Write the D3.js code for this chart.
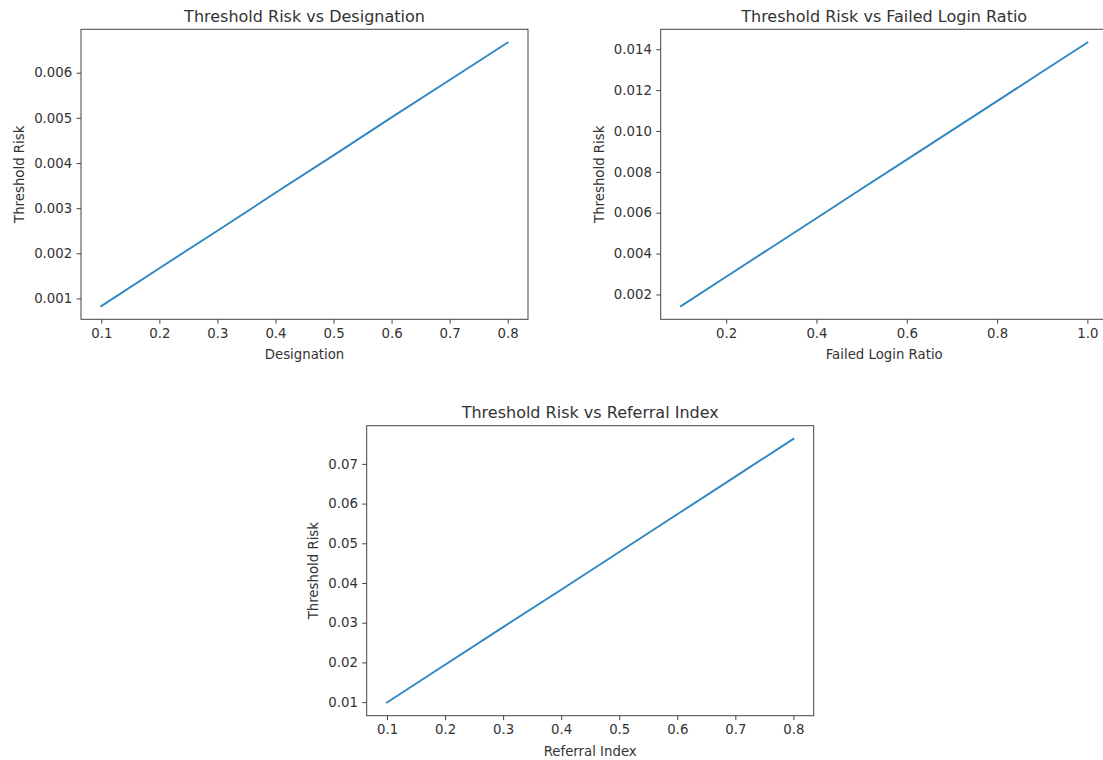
<!DOCTYPE html>
<html>
<head>
<meta charset="utf-8">
<script src="https://cdn.jsdelivr.net/npm/d3@7"></script>
<style>
  html, body { margin: 0; padding: 0; background: #fff; }
  svg { display: block; }
  text { font-family: "DejaVu Sans", sans-serif; fill: #333; }
</style>
</head>
<body>
<svg id="chart" width="1103" height="760"></svg>
<script>
// ---------- Data ----------
const designationX = [0.1, 0.2, 0.3, 0.4, 0.5, 0.6, 0.7, 0.8];
const designationRisk = [0.00083, 0.00167, 0.00250, 0.00334, 0.00417, 0.00501, 0.00584, 0.00667];

const failedLoginX = [0.1, 0.2, 0.3, 0.4, 0.5, 0.6, 0.7, 0.8, 0.9, 1.0];
const failedLoginRisk = [0.00143, 0.00287, 0.00430, 0.00573, 0.00717, 0.00860, 0.01003, 0.01146, 0.01290, 0.01433];

const referralX = [0.1, 0.2, 0.3, 0.4, 0.5, 0.6, 0.7, 0.8];
const referralRisk = [0.0099, 0.0194, 0.0289, 0.0383, 0.0478, 0.0573, 0.0668, 0.0763];

// ---------- Tick labels ----------
const designationXTicks = [0.1, 0.2, 0.3, 0.4, 0.5, 0.6, 0.7, 0.8];
const designationYTicks = [0.001, 0.002, 0.003, 0.004, 0.005, 0.006];
const failedLoginXTicks = [0.2, 0.4, 0.6, 0.8, 1.0];
const failedLoginYTicks = [0.002, 0.004, 0.006, 0.008, 0.010, 0.012, 0.014];
const referralXTicks = [0.1, 0.2, 0.3, 0.4, 0.5, 0.6, 0.7, 0.8];
const referralYTicks = [0.01, 0.02, 0.03, 0.04, 0.05, 0.06, 0.07];

const titles = ["Threshold Risk vs Designation", "Threshold Risk vs Failed Login Ratio", "Threshold Risk vs Referral Index"];
const xLabels = ["Designation", "Failed Login Ratio", "Referral Index"];
const yLabel = "Threshold Risk";

// ---------- Layout ----------
const svg = d3.select("#chart");
const W = 447, H = 290;
const panels = [
  { left: 81,    top: 29.3,  xs: designationX, ys: designationRisk, xt: designationXTicks, yt: designationYTicks, xf: d3.format(".1f"), yf: d3.format(".3f"), title: titles[0], xl: xLabels[0] },
  { left: 660.7, top: 29.3,  xs: failedLoginX, ys: failedLoginRisk, xt: failedLoginXTicks, yt: failedLoginYTicks, xf: d3.format(".1f"), yf: d3.format(".3f"), title: titles[1], xl: xLabels[1] },
  { left: 366.7, top: 425.7, xs: referralX, ys: referralRisk, xt: referralXTicks, yt: referralYTicks, xf: d3.format(".1f"), yf: d3.format(".2f"), title: titles[2], xl: xLabels[2] }
];

function padded(ext) {
  const m = (ext[1] - ext[0]) * 0.05;
  return [ext[0] - m, ext[1] + m];
}

panels.forEach(p => {
  const g = svg.append("g").attr("transform", `translate(${p.left},${p.top})`);
  const x = d3.scaleLinear().domain(padded(d3.extent(p.xs))).range([0, W]);
  const y = d3.scaleLinear().domain(padded(d3.extent(p.ys))).range([H, 0]);

  // line
  const pts = p.xs.map((v, i) => [v, p.ys[i]]);
  g.append("path")
    .datum(pts)
    .attr("fill", "none")
    .attr("stroke", "#2f86c3")
    .attr("stroke-width", 1.9)
    .attr("stroke-linecap", "square")
    .attr("d", d3.line().x(d => x(d[0])).y(d => y(d[1])));

  // axes
  const xa = g.append("g").attr("transform", `translate(0,${H})`)
    .call(d3.axisBottom(x).tickValues(p.xt).tickFormat(p.xf).tickSize(4.4).tickPadding(4.4));
  const ya = g.append("g")
    .call(d3.axisLeft(y).tickValues(p.yt).tickFormat(p.yf).tickSize(4.4).tickPadding(4.4));
  [xa, ya].forEach(a => {
    a.select(".domain").remove();
    a.selectAll(".tick line").attr("stroke", "#444").attr("stroke-width", 1);
    a.selectAll(".tick text").attr("font-size", "13.3px").attr("fill", "#333")
      .attr("font-family", "DejaVu Sans, sans-serif");
  });

  // spines
  g.append("rect").attr("x", 0).attr("y", 0).attr("width", W).attr("height", H)
    .attr("fill", "none").attr("stroke", "#444").attr("stroke-width", 1);

  // title
  g.append("text").attr("x", W / 2).attr("y", -7.5).attr("text-anchor", "middle")
    .attr("font-size", "16px").text(p.title);

  // x label
  g.append("text").attr("x", W / 2).attr("y", H + 40).attr("text-anchor", "middle")
    .attr("font-size", "13.3px").text(p.xl);

  // y label
  const bb = ya.node().getBBox();
  const lx = bb.x - 10;
  g.append("text").attr("transform", `translate(${lx},${H / 2}) rotate(-90)`)
    .attr("text-anchor", "middle").attr("font-size", "13.3px").text(yLabel);
});
</script>
</body>
</html>
